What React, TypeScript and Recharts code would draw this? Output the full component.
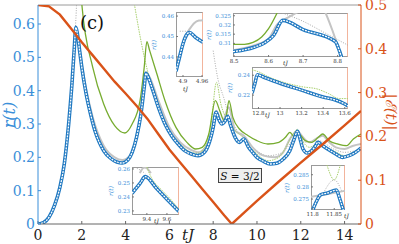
import React from "react";
import { LineChart, Line, XAxis, YAxis, ReferenceLine } from "recharts";

// main panel: r(t) curves (left axis) and |E(t)| (right axis)
const tBlue = [0, 0.25, 0.5, 0.75, 1, 1.2, 1.4, 1.55, 1.65, 1.73, 1.8, 1.9, 2, 2.2, 2.4, 2.6, 2.8, 3, 3.3, 3.6, 3.85, 4.1, 4.3, 4.5, 4.7, 4.85, 4.93, 5, 5.2, 5.5, 5.8, 6.1, 6.4, 6.7, 7, 7.3, 7.6, 7.8, 8, 8.13, 8.25, 8.4, 8.55, 8.66, 8.8, 9, 9.2, 9.4, 9.6, 9.8, 10, 10.3, 10.6, 10.9, 11.2, 11.5, 11.7, 11.85, 11.95, 12.1, 12.3, 12.5, 12.65, 12.78, 13, 13.3, 13.6, 13.9, 14.2, 14.5, 14.75];
const rBlue = [0, 0.004, 0.02, 0.055, 0.11, 0.18, 0.3, 0.42, 0.52, 0.59, 0.57, 0.52, 0.47, 0.39, 0.33, 0.28, 0.245, 0.22, 0.198, 0.186, 0.183, 0.192, 0.215, 0.26, 0.33, 0.41, 0.452, 0.445, 0.41, 0.35, 0.3, 0.265, 0.24, 0.22, 0.21, 0.205, 0.215, 0.24, 0.29, 0.335, 0.315, 0.3, 0.31, 0.323, 0.295, 0.26, 0.245, 0.255, 0.232, 0.215, 0.2, 0.188, 0.18, 0.182, 0.195, 0.22, 0.255, 0.278, 0.26, 0.225, 0.213, 0.22, 0.232, 0.245, 0.235, 0.222, 0.21, 0.2, 0.205, 0.215, 0.228];

const tGray = [0, 0.5, 1, 1.4, 1.65, 1.74, 1.85, 2, 2.5, 3, 3.5, 3.85, 4.2, 4.5, 4.75, 4.93, 5.1, 5.5, 6, 6.5, 7, 7.3, 7.6, 7.9, 8.15, 8.4, 8.72, 8.85, 9, 9.4, 9.8, 10.3, 10.8, 11.2, 11.5, 11.85, 12.1, 12.4, 12.8, 13, 13.3, 13.6, 14, 14.4, 14.75];
const rGray = [0, 0.02, 0.11, 0.3, 0.52, 0.585, 0.55, 0.48, 0.32, 0.235, 0.2, 0.192, 0.205, 0.265, 0.36, 0.455, 0.44, 0.37, 0.29, 0.245, 0.222, 0.215, 0.225, 0.27, 0.34, 0.305, 0.35, 0.32, 0.28, 0.265, 0.23, 0.205, 0.2, 0.215, 0.255, 0.278, 0.26, 0.245, 0.26, 0.265, 0.245, 0.23, 0.225, 0.235, 0.24];

const tGrayDot1 = [0, 0.5, 1, 1.4, 1.6, 1.7, 1.76, 1.8];
const rGrayDot1 = [0, 0.02, 0.11, 0.3, 0.47, 0.58, 0.66, 0.75];
const tGrayDot2 = [8, 8.2, 8.5, 8.7, 8.83, 9, 9.2, 9.4, 9.8, 10.5, 11, 11.5, 11.85, 12.2, 12.8, 13.5, 14, 14.75];
const rGrayDot2 = [0.52, 0.44, 0.375, 0.328, 0.307, 0.29, 0.27, 0.258, 0.23, 0.205, 0.21, 0.24, 0.278, 0.245, 0.25, 0.225, 0.215, 0.225];

const tGreen = [1.9, 2, 2.5, 3, 3.5, 3.97, 4.3, 4.66, 4.85, 4.97, 5.1, 5.43, 5.8, 6.3, 6.8, 7.2, 7.5, 7.8, 8.1, 8.3, 8.5, 8.6, 8.72, 8.9, 9.2, 9.6, 10, 10.5, 11, 11.3, 11.5, 11.7, 11.9, 12.2, 12.5, 12.8, 13, 13.3, 13.7, 14.1, 14.4, 14.75];
const rGreen = [0.75, 0.66, 0.47, 0.36, 0.295, 0.273, 0.3, 0.37, 0.47, 0.547, 0.52, 0.45, 0.37, 0.29, 0.245, 0.225, 0.23, 0.27, 0.37, 0.34, 0.31, 0.325, 0.37, 0.32, 0.285, 0.265, 0.25, 0.24, 0.245, 0.26, 0.275, 0.262, 0.27, 0.25, 0.245, 0.26, 0.27, 0.25, 0.24, 0.235, 0.255, 0.27];

const tGreenDot = [4.4, 4.7, 5, 5.3, 5.6, 6, 6.5, 7, 7.3, 7.6, 7.9, 8.15, 8.35, 8.5, 8.7, 9, 9.4, 9.7, 10, 10.5, 11, 11.4, 11.65, 11.85, 12, 12.4, 12.8, 13, 13.4, 13.6, 14, 14.4, 14.75];
const rGreenDot = [0.66, 0.55, 0.46, 0.4, 0.34, 0.28, 0.24, 0.215, 0.212, 0.23, 0.3, 0.425, 0.36, 0.33, 0.31, 0.28, 0.258, 0.23, 0.21, 0.19, 0.2, 0.24, 0.27, 0.284, 0.26, 0.23, 0.243, 0.234, 0.222, 0.216, 0.205, 0.215, 0.225];

const tOrange = [0, 0.5, 1, 1.5, 2, 2.5, 3, 3.5, 4, 4.5, 5, 5.5, 6, 6.5, 7, 7.5, 8, 8.5, 8.85, 9.5, 10, 11, 12, 13, 14, 14.75];
const eOrange = [0.5, 0.497, 0.478, 0.447, 0.415, 0.385, 0.355, 0.325, 0.298, 0.27, 0.24, 0.205, 0.17, 0.14, 0.11, 0.08, 0.05, 0.02, 0, 0.03, 0.053, 0.097, 0.14, 0.182, 0.225, 0.258];

const xTicks = [0, 2, 4, 6, 8, 10, 12, 14];
const rTicks = [0, 0.1, 0.2, 0.3, 0.4, 0.5, 0.6];
const eTicks = [0, 0.1, 0.2, 0.3, 0.4, 0.5];

// inset A: tJ 4.88 - 4.96
const aBlueT = [4.878, 4.89, 4.9, 4.91, 4.92, 4.94, 4.963];
const aBlueR = [0.433, 0.4405, 0.4465, 0.4505, 0.452, 0.4495, 0.4472];
const aGrayT = [4.91, 4.92, 4.935, 4.95, 4.963];
const aGrayR = [0.451, 0.4535, 0.4565, 0.4578, 0.458];
const aDotT = [4.89, 4.915];
const aDotR = [0.4526, 0.4526];

// inset B: tJ 8.5 - 8.83
const bBlueT = [8.497, 8.53, 8.56, 8.59, 8.615, 8.641, 8.7, 8.793, 8.805, 8.812];
const bBlueR = [0.3055, 0.3065, 0.308, 0.3105, 0.3145, 0.3225, 0.3175, 0.311, 0.306, 0.302];
const bGray1T = [8.497, 8.56, 8.6, 8.624, 8.65, 8.67, 8.687, 8.7];
const bGray1R = [0.3062, 0.309, 0.3125, 0.3201, 0.3235, 0.3255, 0.3272, 0.328];
const bGray2T = [8.764, 8.775, 8.785, 8.798, 8.815];
const bGray2R = [0.327, 0.322, 0.317, 0.31, 0.302];
const bGreenT = [8.497, 8.53, 8.555, 8.58, 8.6, 8.626];
const bGreenR = [0.3095, 0.3095, 0.3105, 0.3135, 0.318, 0.327];
const bDotT = [8.64, 8.7, 8.76, 8.83];
const bDotR = [0.3265, 0.322, 0.316, 0.309];

// inset C: tJ 12.74 - 13.63
const cBlueT = [12.74, 12.765, 12.79, 12.85, 13, 13.2, 13.4, 13.5, 13.6, 13.63];
const cBlueR = [0.222, 0.231, 0.2405, 0.238, 0.232, 0.225, 0.218, 0.2155, 0.211, 0.209];
const cGreenT = [12.74, 12.8, 12.9, 13, 13.2, 13.35, 13.45, 13.55, 13.63];
const cGreenR = [0.2455, 0.2435, 0.238, 0.234, 0.2285, 0.226, 0.2215, 0.2165, 0.2165];

// inset D: tJ 9.25 - 9.72
const dBlueT = [9.252, 9.3, 9.34, 9.383, 9.5, 9.6, 9.72];
const dBlueR = [0.2426, 0.2468, 0.2505, 0.2545, 0.2458, 0.2384, 0.2296];
const dGreenT = [9.4, 9.43, 9.46, 9.55, 9.65, 9.72];
const dGreenR = [0.2614, 0.256, 0.252, 0.2448, 0.2372, 0.231];
const dGrayT = [9.33, 9.345, 9.36, 9.38, 9.4, 9.42, 9.44];
const dGrayR = [0.257, 0.259, 0.2605, 0.261, 0.2605, 0.259, 0.257];
const dDotT = [9.3, 9.36, 9.385];
const dDotR = [0.2605, 0.258, 0.2565];

// inset E: tJ 11.8 - 11.875
const eBlueT = [11.8, 11.81, 11.818, 11.835, 11.855, 11.863, 11.871];
const eBlueR = [0.2705, 0.2745, 0.2767, 0.2775, 0.2787, 0.275, 0.2705];
const eGrayT = [11.796, 11.835, 11.875];
const eGrayR = [0.2759, 0.2771, 0.2784];
const eGreenT = [11.833, 11.85, 11.864];
const eGreenR = [0.289, 0.2829, 0.289];
const eDotT = [11.825, 11.85, 11.868];
const eDotR = [0.2775, 0.2829, 0.278];

const BLUE = "#1f78c1";
const BLUE_TXT = "#3b8fd9";
const GRAY = "#c4c4c4";
const GREEN = "#77ac30";
const GREEN_LT = "#a9d06e";
const ORANGE = "#d95319";
const SERIF = "'DejaVu Serif', serif";

const pts = (ts: number[], vs: number[]) => ts.map((t, i) => ({ t, v: vs[i] }));

type Series = { data: { t: number; v: number }[]; kind: "blue" | "gray" | "grayDot" | "green" | "greenDot" };

function drawSeries(s: Series, key: string, yAxisId?: string) {
  const common = { data: s.data, dataKey: "v", dot: false, isAnimationActive: false, yAxisId, type: "monotone" as const };
  if (s.kind === "blue") {
    return [
      <Line key={key + "a"} {...common} stroke={BLUE} strokeWidth={3.6} />,
      <Line key={key + "b"} {...common} stroke="#ffffff" strokeWidth={1.3} strokeDasharray="2 1" />,
    ];
  }
  if (s.kind === "gray") return [<Line key={key} {...common} stroke={GRAY} strokeWidth={2} />];
  if (s.kind === "grayDot") return [<Line key={key} {...common} stroke="#aaaaaa" strokeWidth={1} strokeDasharray="1 1.5" />];
  if (s.kind === "green") return [<Line key={key} {...common} stroke={GREEN} strokeWidth={1.3} />];
  return [<Line key={key} {...common} stroke={GREEN_LT} strokeWidth={1} strokeDasharray="1.5 1" />];
}

interface InsetProps {
  x: number;
  y: number;
  w: number;
  h: number;
  xDomain: [number, number];
  yDomain: [number, number];
  xTicks: number[];
  yTicks: number[];
  series: Series[];
  tjX: number;
  tjBelow?: boolean;
  yw: number;
}

function Inset({ x, y, w, h, xDomain, yDomain, xTicks, yTicks, series, tjX, tjBelow, yw }: InsetProps) {
  const xh = 11;
  const padR = 10;
  return (
    <>
      <div
        style={{
          position: "absolute", left: x, top: y, width: w, height: h, background: "#fff",
          border: "1px solid #9a9a9a", borderRight: "1px solid #f2b49c", boxSizing: "border-box",
        }}
      />
      <div style={{ position: "absolute", left: x - yw, top: y }}>
        <LineChart width={w + yw + padR} height={h + xh} margin={{ top: 0, right: padR, bottom: 0, left: 0 }}>
          <XAxis type="number" dataKey="t" domain={xDomain} ticks={xTicks} interval={0} allowDataOverflow
            height={xh} axisLine={false} tickSize={-2} tickMargin={4} tickLine={{ stroke: "#777" }}
            tick={{ fontSize: 5.5, fill: "#333", fontFamily: SERIF }} />
          <YAxis type="number" domain={yDomain} ticks={yTicks} interval={0} allowDataOverflow
            width={yw} axisLine={false} tickSize={-2} tickMargin={4} tickLine={{ stroke: "#777" }}
            tick={{ fontSize: 5.5, fill: BLUE_TXT, fontFamily: SERIF }} />
          {series.flatMap((s, i) => drawSeries(s, "s" + i))}
        </LineChart>
      </div>
      <div style={{ position: "absolute", left: x - yw - 11, top: y + h / 2 - 4, width: 14, textAlign: "center",
        fontSize: 6, fontStyle: "italic", color: BLUE_TXT, fontFamily: SERIF, transform: "rotate(-90deg)",
        whiteSpace: "nowrap", lineHeight: "8px" }}>
        r(t)
      </div>
      <div style={{ position: "absolute", left: tjX - 3, top: tjBelow ? y + h + 8 : y + h + 2, fontSize: 6,
        fontStyle: "italic", color: "#333", fontFamily: SERIF, lineHeight: "8px" }}>
        tJ
      </div>
    </>
  );
}

export default function App() {
  return (
    <div style={{ position: "absolute", left: 0, top: 0, width: 399, height: 244, background: "#fff", fontFamily: SERIF }}>
      <LineChart width={399} height={244} margin={{ top: 5, right: 0, bottom: 0, left: 0 }}>
        <XAxis type="number" dataKey="t" domain={[0, 14.75]} ticks={xTicks} interval={0} allowDataOverflow
          height={20} axisLine={{ stroke: "#666" }} tickLine={{ stroke: "#666" }} tickSize={-3} tickMargin={9}
          tick={{ fontSize: 14, fill: "#222", fontFamily: SERIF }} />
        <YAxis yAxisId="left" type="number" domain={[0, 0.657]} ticks={rTicks} interval={0} allowDataOverflow
          width={38} axisLine={{ stroke: BLUE_TXT }} tickLine={{ stroke: BLUE_TXT }} tickSize={-3} tickMargin={6}
          tick={{ fontSize: 14, fill: BLUE_TXT, fontFamily: SERIF }} />
        <YAxis yAxisId="right" orientation="right" type="number" domain={[0, 0.5]} ticks={eTicks} interval={0}
          allowDataOverflow width={38} axisLine={{ stroke: ORANGE }} tickLine={{ stroke: ORANGE }} tickSize={-3}
          tickMargin={7} tick={{ fontSize: 14, fill: ORANGE, fontFamily: SERIF }} />
        <ReferenceLine yAxisId="left" y={0.657} stroke="#9a9a9a" />
        {drawSeries({ data: pts(tGrayDot1, rGrayDot1), kind: "grayDot" }, "gd1", "left")}
        {drawSeries({ data: pts(tGrayDot2, rGrayDot2), kind: "grayDot" }, "gd2", "left")}
        {drawSeries({ data: pts(tGray, rGray), kind: "gray" }, "g", "left")}
        {drawSeries({ data: pts(tGreenDot, rGreenDot), kind: "greenDot" }, "grd", "left")}
        {drawSeries({ data: pts(tGreen, rGreen), kind: "green" }, "gr", "left")}
        {drawSeries({ data: pts(tBlue, rBlue), kind: "blue" }, "b", "left")}
        <Line yAxisId="right" data={pts(tOrange, eOrange)} dataKey="v" type="linear" dot={false}
          stroke={ORANGE} strokeWidth={2.4} isAnimationActive={false} />
      </LineChart>

      <div style={{ position: "absolute", left: -8, top: 106, width: 36, textAlign: "center", fontSize: 16,
        fontStyle: "italic", color: BLUE_TXT, transform: "rotate(-90deg)", lineHeight: "18px", whiteSpace: "nowrap" }}>r(t)</div>
      <div style={{ position: "absolute", left: 366, top: 103, width: 50, textAlign: "center", fontSize: 15,
        fontStyle: "italic", color: ORANGE, transform: "rotate(90deg)", lineHeight: "18px", whiteSpace: "nowrap" }}>|ℰ(t)|</div>
      <div style={{ position: "absolute", left: 182, top: 227, fontSize: 15, fontStyle: "italic", color: "#222",
        lineHeight: "16px" }}>tJ</div>
      <div style={{ position: "absolute", left: 80, top: 13, fontSize: 18, color: "#111", lineHeight: "20px" }}>(c)</div>
      <div style={{ position: "absolute", left: 218, top: 168, width: 44, height: 15, border: "1px solid #444",
        background: "#eeeeee", fontSize: 10.5, lineHeight: "15px", textAlign: "center", color: "#111",
        whiteSpace: "nowrap", boxSizing: "border-box" }}>
        <i>S</i> = 3/2
      </div>

      <Inset x={176} y={12} w={27} h={65} xDomain={[4.878, 4.963]} yDomain={[0.4302, 0.462]}
        xTicks={[4.9, 4.96]} yTicks={[0.44, 0.45, 0.46]} tjX={186} tjBelow yw={18}
        series={[
          { data: pts(aDotT, aDotR), kind: "grayDot" },
          { data: pts(aGrayT, aGrayR), kind: "gray" },
          { data: pts(aBlueT, aBlueR), kind: "blue" },
        ]} />
      <Inset x={233} y={13} w={115} h={44} xDomain={[8.497, 8.83]} yDomain={[0.3026, 0.3265]}
        xTicks={[8.5, 8.6, 8.7, 8.8]} yTicks={[0.31, 0.315, 0.32, 0.325]} tjX={286} yw={20}
        series={[
          { data: pts(bDotT, bDotR), kind: "grayDot" },
          { data: pts(bGray1T, bGray1R), kind: "gray" },
          { data: pts(bGray2T, bGray2R), kind: "gray" },
          { data: pts(bGreenT, bGreenR), kind: "green" },
          { data: pts(bBlueT, bBlueR), kind: "blue" },
        ]} />
      <Inset x={252} y={67} w={96} h={42} xDomain={[12.74, 13.63]} yDomain={[0.206, 0.2483]}
        xTicks={[12.8, 13, 13.2, 13.4, 13.6]} yTicks={[0.22, 0.24]} tjX={268} yw={18}
        series={[
          { data: pts(cGreenT, cGreenR), kind: "greenDot" },
          { data: pts(cBlueT, cBlueR), kind: "blue" },
        ]} />
      <Inset x={132} y={167} w={47} h={48} xDomain={[9.252, 9.72]} yDomain={[0.2271, 0.2614]}
        xTicks={[9.4, 9.6]} yTicks={[0.23, 0.24, 0.25, 0.26]} tjX={157} yw={17}
        series={[
          { data: pts(dDotT, dDotR), kind: "grayDot" },
          { data: pts(dGrayT, dGrayR), kind: "gray" },
          { data: pts(dGreenT, dGreenR), kind: "greenDot" },
          { data: pts(dBlueT, dBlueR), kind: "blue" },
        ]} />
      <Inset x={311} y={165} w={34} h={45} xDomain={[11.796, 11.875]} yDomain={[0.2705, 0.289]}
        xTicks={[11.8, 11.85]} yTicks={[0.275, 0.28, 0.285]} tjX={347} yw={20}
        series={[
          { data: pts(eDotT, eDotR), kind: "grayDot" },
          { data: pts(eGreenT, eGreenR), kind: "greenDot" },
          { data: pts(eGrayT, eGrayR), kind: "gray" },
          { data: pts(eBlueT, eBlueR), kind: "blue" },
        ]} />
    </div>
  );
}
